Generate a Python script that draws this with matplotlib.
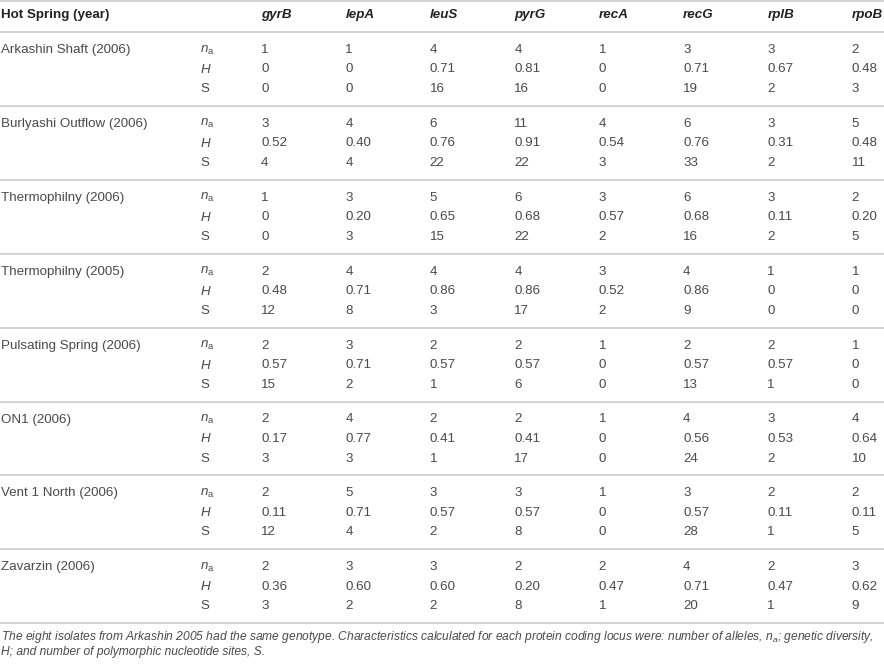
import matplotlib
matplotlib.use("Agg")
import matplotlib.pyplot as plt

plt.rcParams['font.family'] = ['Liberation Sans', 'DejaVu Sans']
plt.rcParams['mathtext.fontset'] = 'custom'
plt.rcParams['mathtext.rm'] = 'Liberation Sans'
plt.rcParams['mathtext.it'] = 'Liberation Sans:italic'

# table data
loci = ['gyrB', 'lepA', 'leuS', 'pyrG', 'recA', 'recG', 'rplB', 'rpoB']
springs = ['Arkashin Shaft (2006)', 'Burlyashi Outflow (2006)', 'Thermophilny (2006)',
           'Thermophilny (2005)', 'Pulsating Spring (2006)', 'ON1 (2006)',
           'Vent 1 North (2006)', 'Zavarzin (2006)']
n_alleles = [
    [1, 1, 4, 4, 1, 3, 3, 2],
    [3, 4, 6, 11, 4, 6, 3, 5],
    [1, 3, 5, 6, 3, 6, 3, 2],
    [2, 4, 4, 4, 3, 4, 1, 1],
    [2, 3, 2, 2, 1, 2, 2, 1],
    [2, 4, 2, 2, 1, 4, 3, 4],
    [2, 5, 3, 3, 1, 3, 2, 2],
    [2, 3, 3, 2, 2, 4, 2, 3],
]
diversity = [
    [0, 0, 0.71, 0.81, 0, 0.71, 0.67, 0.48],
    [0.52, 0.40, 0.76, 0.91, 0.54, 0.76, 0.31, 0.48],
    [0, 0.20, 0.65, 0.68, 0.57, 0.68, 0.11, 0.20],
    [0.48, 0.71, 0.86, 0.86, 0.52, 0.86, 0, 0],
    [0.57, 0.71, 0.57, 0.57, 0, 0.57, 0.57, 0],
    [0.17, 0.77, 0.41, 0.41, 0, 0.56, 0.53, 0.64],
    [0.11, 0.71, 0.57, 0.57, 0, 0.57, 0.11, 0.11],
    [0.36, 0.60, 0.60, 0.20, 0.47, 0.71, 0.47, 0.62],
]
poly_sites = [
    [0, 0, 16, 16, 0, 19, 2, 3],
    [4, 4, 22, 22, 3, 33, 2, 11],
    [0, 3, 15, 22, 2, 16, 2, 5],
    [12, 8, 3, 17, 2, 9, 0, 0],
    [15, 2, 1, 6, 0, 13, 1, 0],
    [3, 3, 1, 17, 0, 24, 2, 10],
    [12, 4, 2, 8, 0, 28, 1, 5],
    [3, 2, 2, 8, 1, 20, 1, 9],
]
stat_labels = [r'$n_\mathrm{a}$', r'$H$', 'S']
footnote = ['The eight isolates from Arkashin 2005 had the same genotype. Characteristics calculated for '
            'each protein coding locus were: number of alleles, $n_a$; genetic diversity,',
            'H; and number of polymorphic nucleotide sites, S.']

W, H = 884, 664
fig = plt.figure(figsize=(W / 100, H / 100), dpi=100)
ax = fig.add_axes([0, 0, 1, 1])
ax.set_xlim(0, W)
ax.set_ylim(H, 0)
ax.axis('off')

txt = '#4a4a4a'
line_c = '#cfcfcf'
fs = 9.6

x_label = 200
x0, dx = 261, 84.4
head_y = 15
top = 32
group_h = 73.9
row_off = [18, 37.5, 57]

# header
ax.text(1, head_y, 'Hot Spring (year)', fontsize=fs, fontweight='bold', color='#222222', va='center')
for j, loc in enumerate(loci):
    ax.text(x0 + j * dx, head_y, loc, fontsize=fs, fontweight='bold', style='italic',
            color='#222222', va='center')

ax.axhline(0.8, color=line_c, lw=1.3)
ax.axhline(top, color=line_c, lw=1.3)

for i, name in enumerate(springs):
    gy = top + i * group_h
    ax.text(1, gy + row_off[0], name, fontsize=fs, color=txt, va='center')
    rows = [[str(v) for v in n_alleles[i]],
            ['0' if v == 0 else '%.2f' % v for v in diversity[i]],
            [str(v) for v in poly_sites[i]]]
    for r in range(3):
        ax.text(x_label, gy + row_off[r], stat_labels[r], fontsize=fs, color=txt, va='center')
        for j, val in enumerate(rows[r]):
            ax.text(x0 + j * dx, gy + row_off[r], val, fontsize=fs, color=txt, va='center')
    ax.axhline(gy + group_h, color=line_c, lw=1.3)

ax.text(1, 637, footnote[0], fontsize=8.65, style='italic', color=txt, va='center')
ax.text(1, 652, footnote[1], fontsize=8.65, style='italic', color=txt, va='center')

fig.savefig('out.png', dpi=100)
